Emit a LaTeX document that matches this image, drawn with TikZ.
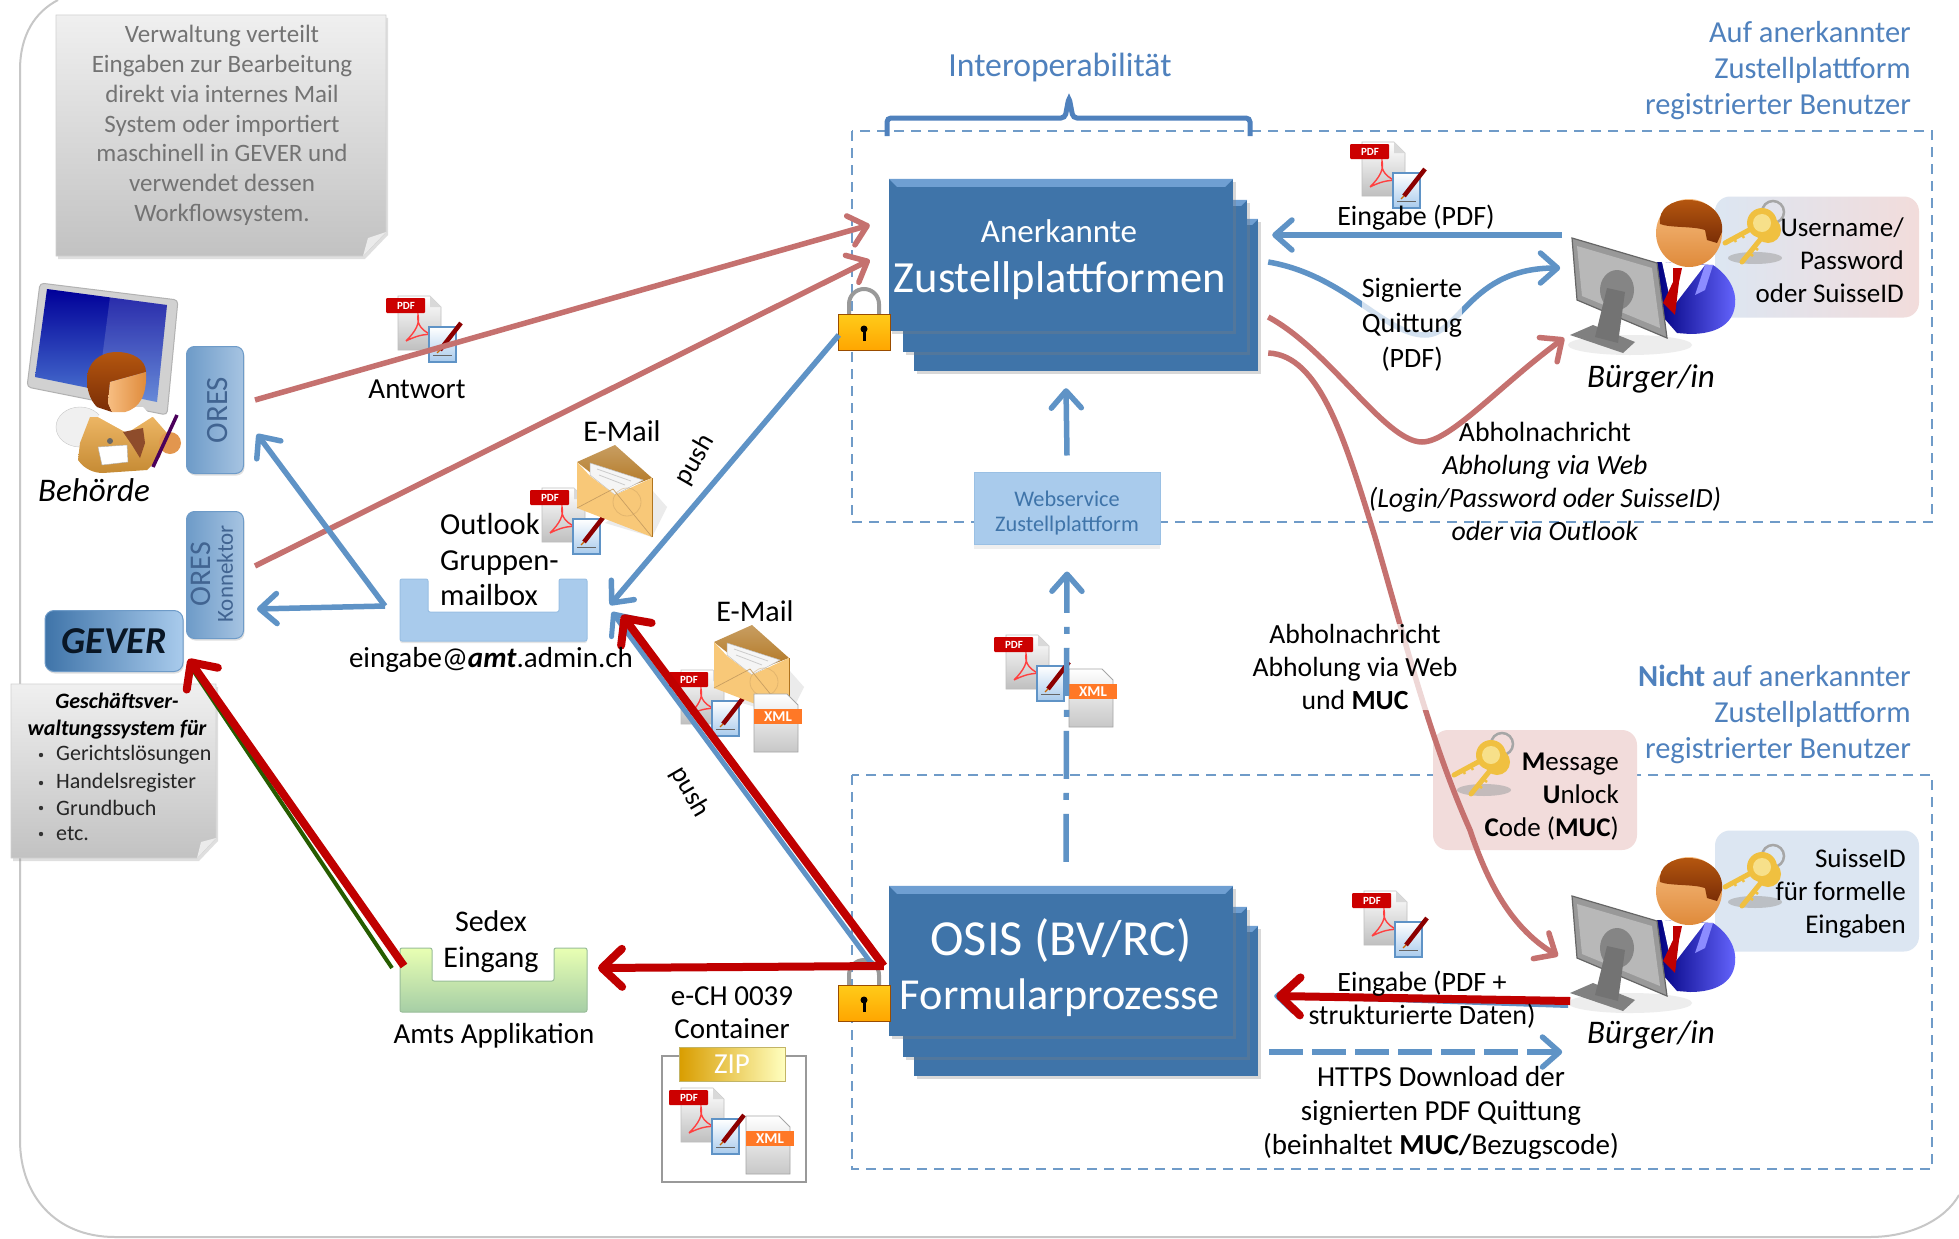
\documentclass[tikz,border=0pt]{standalone}
\usepackage{fontspec}
\setmainfont{Carlito}
\usetikzlibrary{arrows.meta,calc,shadows,positioning}
\definecolor{bluA}{HTML}{5F93C6}
\definecolor{bluT}{HTML}{4F81BD}
\definecolor{bluS}{HTML}{3F74A9}
\definecolor{bluL}{HTML}{6F9FD2}
\definecolor{paleR}{HTML}{C5716F}
\definecolor{darkR}{HTML}{C00000}
\definecolor{boxL}{HTML}{A9CBEC}
\definecolor{navy}{HTML}{1F497D}
\definecolor{dashB}{HTML}{6F9BC8}
\definecolor{sideL}{HTML}{6E9BC8}
\definecolor{sideR}{HTML}{A6C4E2}
\definecolor{paleB}{HTML}{DCE6F2}
\definecolor{paleP}{HTML}{F2DCDB}
\definecolor{keyY}{HTML}{F0C040}
\definecolor{keyL}{HTML}{F7E08A}
\definecolor{envF}{HTML}{F8C878}
\definecolor{envD}{HTML}{B0741E}
\definecolor{hairA}{HTML}{B4560F}
\definecolor{hairB}{HTML}{7A2D06}
\definecolor{skinA}{HTML}{F7BE82}
\definecolor{skinB}{HTML}{DF8A3A}
\definecolor{bodyO}{HTML}{E8A33D}
\newcommand{\fs}[1]{\fontsize{#1}{#1}\selectfont}
\tikzset{
  barb/.style={-{Straight Barb[length=17pt,width=30pt,round]}},
  bigbarb/.style={-{Straight Barb[length=20pt,width=38pt,round]}},
  bluearrow/.style={barb,draw=bluA,line width=5.5pt},
  palearrow/.style={barb,draw=paleR,line width=5.5pt},
  redarrow/.style={bigbarb,draw=darkR,line width=8pt},
  label/.style={font=\fs{29},align=center,inner sep=0pt},
  rlabel/.style={font=\fs{30.5},align=right,inner sep=0pt,text=bluT},
  halo/.style={fill=white,fill opacity=.72,text opacity=1},
  zone/.style={draw=dashB,line width=2pt,dash pattern=on 10pt off 7pt},
  stackbox/.style={draw=none,fill=bluS,minimum width=344pt,inner sep=0pt,drop shadow={shadow xshift=3pt,shadow yshift=-3pt,opacity=.3}},
  sidebox/.style={draw=sideL,line width=1pt,rounded corners=8pt,left color=sideL,right color=sideR,minimum width=57pt,inner sep=0pt,drop shadow={shadow xshift=1pt,shadow yshift=-2pt,opacity=.25}},
  keybox/.style={rounded corners=15pt,minimum width=204pt,inner sep=0pt},
}
% PDF icon: x,y = top left; 77 x 67
\newcommand{\pdficon}[2]{\begin{scope}[shift={(#1,#2)}]
  \path[top color=white,bottom color=black!25,draw=black!25,line width=.6pt] (12,1) -- (44,1) -- (55,12) -- (55,55) -- (12,55) -- cycle;
  \path[fill=black!15] (44,1) -- (44,12) -- (55,12) -- cycle;
  \draw[red!75!white,line width=1.4pt] (20,46) .. controls (30,36) and (34,28) .. (32,20) .. controls (30,30) and (38,38) .. (48,40) .. controls (38,38) and (28,42) .. (20,46);
  \path[fill=red!80!black,rounded corners=1pt] (0,3) rectangle (39,18);
  \node[inner sep=0pt,text=white,font=\fs{11}\bfseries] at (20,10.5) {PDF};
  \path[top color=white,bottom color=boxL,draw=bluA,line width=1.8pt] (43,32) rectangle (70,67);
  \draw[black!60,line width=1pt] (47,60) -- (66,60);
  \draw[red!55!black,line width=4.5pt] (54,55) -- (75,28);
  \draw[orange!80!black,line width=1.2pt] (51,58) -- (54,55);
\end{scope}}
% XML icon: x,y = top left; 48 x 58
\newcommand{\xmlicon}[2]{\begin{scope}[shift={(#1,#2)}]
  \path[top color=white,bottom color=black!22,draw=black!35,line width=.8pt] (0,0) -- (33,0) -- (44,11) -- (44,58) -- (0,58) -- cycle;
  \path[fill=orange!75!red!85!white] (0,15) rectangle (48,30);
  \node[inner sep=0pt,text=white,font=\fs{15}\bfseries] at (24,22.5) {XML};
\end{scope}}
% Envelope: x,y = top left; 78 x 92
\newcommand{\envicon}[2]{\begin{scope}[shift={(#1,#2)}]
  \path[fill=black!8] (30,78) -- (77,92) -- (92,62) -- (77,45) -- cycle;
  \path[top color=envD!70!white,bottom color=envD] (2,17) -- (40,0) -- (77,33) -- (40,47) -- cycle;
  \path[fill=black!4,draw=black!25,line width=.5pt] (15,18) -- (68,35) -- (40,50) -- (15,30) -- cycle;
  \draw[black!20,line width=.8pt] (22,24) -- (56,36) (24,30) -- (50,40);
  \path[fill=envF] (2,17) -- (15,31) -- (40,50) -- (77,33) -- (77,92) -- (2,63) -- cycle;
  \draw[envD!70!white,line width=.7pt] (2,63) -- (38,44) -- (77,92);
  \draw[envD!70!white,opacity=.45,line width=.8pt] (52,57) circle[radius=14pt];
  \draw[envD,line width=.6pt] (77,33) -- (77,92);
\end{scope}}
% Lock: x,y = top left of body; 50 x 36
\newcommand{\lockicon}[2]{\begin{scope}[shift={(#1,#2)}]
  \draw[black!40,line width=4pt] (11,2) -- (11,-10) arc[start angle=180,end angle=0,radius=15pt] -- (41,2);
  \path[top color=yellow!55!orange!90!white,bottom color=orange!70!yellow,draw=orange!60!black,line width=.4pt] (0,0) rectangle (52,36);
  \path[fill=black] (26,15) circle[radius=3.5pt];
  \path[fill=black] (24.5,15) -- (27.5,15) -- (27.5,27) -- (24.5,27) -- cycle;
\end{scope}}
% Keys: x,y = centre of heads
\newcommand{\keyicon}[2]{\begin{scope}[shift={(#1,#2)}]
  \path[fill=black!35,opacity=.6] (-6,38) ellipse[x radius=27pt,y radius=6pt];
  \draw[black!35,line width=2.5pt] (12,-8) circle[radius=11pt];
  \draw[keyY,line width=5pt,line cap=round] (7,10) -- (-19,42);
  \draw[keyY,line width=2.5pt] (-13,32) -- (-8,36) (-8,26) -- (-3,30);
  \path[fill=keyY] (7,10) circle[radius=13pt];
  \draw[keyY,line width=5pt,line cap=round] (1,3) -- (-36,23);
  \draw[keyY,line width=2.5pt] (-28,17) -- (-25,22) (-20,13) -- (-17,18);
  \path[fill=keyY] (1,3) circle[radius=15pt];
  \path[fill=keyL] (1,3) circle[radius=9pt];
\end{scope}}
% Citizen: dy = vertical shift
\newcommand{\citizen}[1]{\begin{scope}[shift={(0,#1)}]
  \path[fill=black!7] (1630,345) ellipse[x radius=62pt,y radius=10pt];
  \path[left color=blue!50!black,right color=blue!60!white] (1657,262) -- (1713,265) .. controls (1728,275) and (1737,290) .. (1735,305) .. controls (1733,325) and (1715,334) .. (1690,334) -- (1677,333) -- (1663,317) -- cycle;
  \path[fill=white] (1662,262) -- (1705,265) -- (1672,308) -- cycle;
  \path[fill=red!75!black] (1673,268) -- (1682,268) -- (1679,282) -- (1675,315) -- (1663,303) -- (1673,282) -- cycle;
  \path[fill=blue!45!white] (1713,265) -- (1705,290) -- (1695,295) -- (1705,265) -- cycle;
  \path[top color=skinA,bottom color=skinB] (1689,233) ellipse[x radius=33pt,y radius=34pt];
  \path[top color=hairA,bottom color=hairB] (1660,224) .. controls (1658,208) and (1672,200) .. (1688,200) .. controls (1710,200) and (1724,215) .. (1722,232) -- (1717,243) -- (1707,240) -- (1705,230) .. controls (1693,226) and (1670,228) .. (1660,224) -- cycle;
  \path[fill=black!50] (1570,335) -- (1593,325) -- (1635,342) -- (1623,353) -- cycle;
  \path[fill=black!40,draw=black!60,line width=1.2pt] (1572,238) -- (1657,263) -- (1667,338) -- (1577,300) -- cycle;
  \path[fill=black!28] (1577,246) -- (1652,268) -- (1660,328) -- (1582,296) -- cycle;
  \path[fill=black!48] (1617,290) ellipse[x radius=17pt,y radius=20pt];
  \path[fill=black!55] (1607,288) -- (1625,292) -- (1618,343) -- (1595,337) -- cycle;
\end{scope}}
\newcommand{\bevel}[1]{\path[fill=bluL] (#1.north west) -- (#1.north east) -- ($(#1.north east)+(-6,6)$) -- ($(#1.north west)+(6,6)$) -- cycle;}
\begin{document}
\begin{tikzpicture}[x=1pt,y=-1pt,line cap=butt]
\useasboundingbox (0,0) rectangle (1959,1239);
\path[fill=white] (0,0) rectangle (1959,1239);
% outer frame
\draw[black!22,line width=2pt] (58,0) .. controls (35,12) and (20,35) .. (20,70) -- (20,1140) .. controls (20,1195) and (55,1237) .. (115,1237) -- (1870,1237) .. controls (1910,1237) and (1945,1220) .. (1959,1195);

% grey notes
\path[top color=black!6,bottom color=black!24,draw=black!18,line width=.6pt,drop shadow={shadow xshift=2pt,shadow yshift=-3pt,opacity=.25}] (56,15) -- (386,15) -- (386,232) -- (363,256) -- (56,256) -- cycle;
\path[fill=black!8] (386,232) -- (368,238) -- (363,256) -- cycle;
\node[inner sep=0pt,align=center,text=black!55,font=\fs{25}] (verwaltung) at (222,125.5) {Verwaltung verteilt\\[4.8pt]Eingaben zur Bearbeitung\\[4.8pt]direkt via internes Mail\\[4.8pt]System oder importiert\\[4.8pt]maschinell in GEVER und\\[4.8pt]verwendet dessen\\[4.8pt]Workflowsystem.};

\path[top color=black!6,bottom color=black!24,draw=black!18,line width=.6pt,drop shadow={shadow xshift=2pt,shadow yshift=-3pt,opacity=.25}] (11,684) -- (216,684) -- (216,838) -- (197,858) -- (11,858) -- cycle;
\path[fill=black!8] (216,838) -- (201,842) -- (197,858) -- cycle;
\node[inner sep=0pt,align=center,font=\fs{22}\bfseries\itshape] (gesch) at (117,716) {Geschäftsver-\\[5pt]waltungssystem für};
\foreach \yy/\tt/\nn in {755/Gerichtslösungen/a,783/Handelsregister/b,808/Grundbuch/c,834/etc./d}{
  \node[inner sep=0pt,anchor=west,font=\fs{22},text=black!85] (geschli\nn) at (56,\yy) {\tt};
  \path[fill=black!80] (41,\yy) circle[radius=2.2pt];
}

% zones
\draw[zone] (852,131) rectangle (1932,522);
\draw[zone] (852,775) rectangle (1932,1169);

% interoperability bracket
\node[inner sep=0pt,text=bluT,font=\fs{33.7}] (interop) at (1060,67.5) {Interoperabilität};
\draw[bluT,line width=5pt,rounded corners=4pt] (887,136) -- (887,118) -- (1065,118) -- (1069,97) -- (1073,118) -- (1250,118) -- (1250,136);

% right heading texts
\node[rlabel] (zone1) [anchor=east] at (1911,71) {Auf anerkannter\\[5.5pt]Zustellplattform\\[5.5pt]registrierter Benutzer};
\node[rlabel] (zone2) [anchor=east] at (1911,714) {\textbf{Nicht} auf anerkannter\\[5.5pt]Zustellplattform\\[5.5pt]registrierter Benutzer};

% key boxes
\node[keybox,left color=paleB,right color=paleP,minimum height=121pt] (keyA) at (1817,257) {};
\node[keybox,fill=paleB,minimum height=121pt] (keyB) at (1817,891) {};
\node[keybox,fill=paleP,minimum width=204pt,minimum height=120pt] (keyC) at (1535,790) {};

% Stacks
\node[stackbox,minimum height=152pt] (zust3) at (1086,295) {};
\bevel{zust3}
\node[stackbox,minimum height=152pt] (zust2) at (1075,276) {};
\bevel{zust2}
\node[stackbox,minimum height=152pt] (zust) at (1061,255) {};
\path[fill=bluL] (zust.north west) -- (zust.north east) -- ($(zust.north east)+(-8,8)$) -- ($(zust.north west)+(8,8)$) -- cycle;
\node[inner sep=0pt,text=white,font=\fs{33}] (zustA) at (1059,231) {Anerkannte};
\node[inner sep=0pt,text=white,font=\fs{44.5}] (zustB) at (1060,280.5) {Zustellplattformen};

\node[stackbox,minimum height=150pt] (osis3) at (1086,1001) {};
\bevel{osis3}
\node[stackbox,minimum height=150pt] (osis2) at (1075,982) {};
\bevel{osis2}
\node[stackbox,minimum height=150pt] (osis) at (1061,961) {};
\path[fill=bluL] (osis.north west) -- (osis.north east) -- ($(osis.north east)+(-8,8)$) -- ($(osis.north west)+(8,8)$) -- cycle;
\node[inner sep=0pt,text=white,font=\fs{50.5}] (osisA) at (1061,941) {OSIS (BV/RC)};
\node[inner sep=0pt,text=white,font=\fs{44.3}] (osisB) at (1060,997.5) {Formularprozesse};

% Webservice
\node[draw=boxL!80!bluA,line width=1pt,fill=boxL,minimum width=186pt,minimum height=72pt,inner sep=0pt,align=center,text=bluS,font=\fs{22.3},drop shadow={shadow xshift=0pt,shadow yshift=-5pt,opacity=.12}] (web) at (1067,508) {\rule{0pt}{26pt}Webservice\\[3pt]Zustellplattform};

% side boxes
\node[sidebox,minimum height=127pt] (ores) at (215,410) {};
\node[rotate=90,inner sep=0pt,text=navy!85!white,font=\fs{31}] (oresT) at (218,410) {ORES};
\node[sidebox,minimum height=127pt] (konn) at (215,575) {};
\node[rotate=90,inner sep=0pt,text=navy!85!white,font=\fs{30}] (konnA) at (201,574) {ORES};
\node[rotate=90,inner sep=0pt,text=navy!85!white,font=\fs{23}] (konnB) at (225,574) {Konnektor};
\node[draw=sideL,line width=1pt,rounded corners=9pt,left color=bluS,right color=boxL,minimum width=138pt,minimum height=61pt,inner sep=0pt,text=black!70!navy,font=\fs{38}\bfseries\itshape,drop shadow={shadow xshift=1pt,shadow yshift=-2pt,opacity=.25}] (gever) at (114,641) {GEVER};

% U-shaped boxes
\path[fill=boxL,draw=boxL!80!bluA,line width=1pt,rounded corners=2pt,drop shadow={shadow xshift=0pt,shadow yshift=-2pt,opacity=.2}] (400,579) -- (428,579) -- (428,612) -- (559,612) -- (559,579) -- (587,579) -- (587,641) -- (400,641) -- cycle;
\coordinate (mailbox) at (493,610);
\path[top color=green!30!yellow!30!white,bottom color=green!45!black!35!white,draw=green!35!black!40!white,line width=1pt,rounded corners=2pt] (400,948) -- (432,948) -- (432,981) -- (554,981) -- (554,948) -- (587,948) -- (587,1012) -- (400,1012) -- cycle;
\coordinate (sedex) at (493,980);

% Container box
\node[draw=black!40,line width=1.5pt,fill=white,minimum width=144pt,minimum height=126pt,inner sep=0pt] (cont) at (734,1119) {};
\node[draw=orange!30!yellow!60!black!60,line width=.8pt,left color=yellow!45!orange!85!black,right color=yellow!25!white,minimum width=106pt,minimum height=34pt,inner sep=0pt,text=white,font=\fs{29}] (zip) at (732,1064) {ZIP};

% persons
\citizen{0}
\citizen{658}

% Behörde figure
\path[fill=black!18,draw=black!30,line width=1pt,rounded corners=4pt] (40,283) -- (178,300) -- (167,415) -- (27,387) -- cycle;
\path[top color=blue!60!black,bottom color=bluA!80!blue] (47,289) -- (167,305) -- (157,402) -- (35,377) -- cycle;
\path[fill=white,opacity=.15] (110,297) -- (167,305) -- (157,402) -- (98,390) -- cycle;
\path[fill=black!6,draw=black!22] (80,427) ellipse[x radius=24pt,y radius=20pt];
\path[top color=bodyO!80!white,bottom color=bodyO!85!black] (90,417) -- (80,443) -- (78,460) .. controls (85,470) and (95,473) .. (103,473) -- (147,470) -- (160,457) -- (167,433) -- (153,417) -- cycle;
\path[fill=white] (98,417) -- (127,433) -- (152,417) -- (143,407) -- (106,407) -- cycle;
\path[fill=hairB!85!white] (123,432) -- (143,428) -- (145,443) -- (140,458) -- (132,445) -- cycle;
\path[fill=white,draw=black!30] (98,447) -- (127,445) -- (128,462) -- (102,465) -- cycle;
\path[fill=black!60] (110,441) circle[radius=3pt];
\path[fill=skinB!90!white] (170,443) circle[radius=11pt];
\draw[blue!55!red!65!black,line width=3.5pt] (153,467) -- (177,415);
\path[top color=hairA,bottom color=hairB] (87,380) .. controls (87,362) and (100,352) .. (117,352) .. controls (133,352) and (146,360) .. (146,372) -- (110,382) -- (108,403) -- (112,412) -- (97,407) .. controls (90,400) and (87,390) .. (87,380) -- cycle;
\path[left color=skinA,right color=skinB] (110,382) -- (146,372) .. controls (147,395) and (140,408) .. (125,412) -- (112,412) -- (108,403) -- cycle;

% locks
\lockicon{838}{314}
\lockicon{838}{985}

% icons
\pdficon{386}{295}
\pdficon{530}{487}
\envicon{575}{445}
\pdficon{1350}{141}
\pdficon{994}{634}
\xmlicon{1069}{669}
\pdficon{669}{669}
\envicon{712}{625}
\xmlicon{754}{694}
\pdficon{1352}{890}
\pdficon{669}{1087}
\xmlicon{746}{1116}

% keys
\keyicon{1761}{220}
\keyicon{1761}{864}
\keyicon{1490}{752}

\coordinate (citizenB) at (1558,956);
% pale red arrows
\draw[palearrow] ($(ores.east)+(11,-10)$) -- ($(zust.west)+(-19,-30)$);
\draw[palearrow] ($(konn.east)+(11,-9)$) -- ($(zust.west)+(-19,5)$);
% blue arrows
\draw[bluearrow] ($(mailbox)+(-108,-4)$) -- ($(ores.east)+(13,24)$);
\draw[bluearrow] ($(mailbox)+(-108,-4)$) -- ($(konn.east)+(13,34)$);
\draw[bluearrow] ($(zust.west)+(-50,80)$) -- ($(mailbox)+(117,-5)$);
% arrow from web
\draw[bluearrow] ($(web.north)+(0,-16)$) -- ($(zust3.south)+(-20,17)$);
\draw[bluA,line width=5.5pt,dash pattern=on 48pt off 14pt on 7pt off 14pt,barb] ($(osis.north)+(5,-24)$) -- ($(web.south)+(0,27)$);
% top right arrows
\draw[bluearrow] ($(zust3.east)+(304,-60)$) -- ($(zust3.east)+(14,-60)$);
\draw[bluearrow] ($(zust3.east)+(10,-33)$) .. controls (1345,275) and (1385,335) .. (1425,335) .. controls (1460,335) and (1470,268) .. ($(zust3.east)+(302,-27)$);
\draw[palearrow] ($(zust3.east)+(10,22)$) .. controls (1330,350) and (1385,442) .. (1422,442) .. controls (1450,442) and (1500,385) .. ($(zust3.east)+(306,43)$);
\draw[palearrow] ($(zust3.east)+(10,58)$) .. controls (1320,355) and (1345,440) .. (1375,537) .. controls (1405,640) and (1430,740) .. (1470,830) .. controls (1490,890) and (1515,930) .. (citizenB);
% citizen lower arrows
\draw[bluearrow,line width=4pt] ($(osis3.east)+(310,5)$) -- ($(osis3.east)+(16,-5)$);
\draw[redarrow] ($(osis3.east)+(312,0)$) -- ($(osis3.east)+(18,-5)$);
\draw[bluA,line width=5.5pt,dash pattern=on 34pt off 9pt,barb] ($(osis3.east)+(11,51)$) -- ($(osis3.east)+(304,51)$);
% red arrows
\draw[bluearrow,line width=5pt] ($(osis.west)+(-14,7)$) -- ($(mailbox)+(119,2)$);
\draw[redarrow] ($(osis.west)+(-5,5)$) -- ($(mailbox)+(129,5)$);
\draw[redarrow] ($(osis.west)+(-5,5)$) -- ($(sedex)+(105,-12)$);
\draw[green!30!black!70!olive,line width=4pt] ($(sedex)+(-101,-12)$) -- ($(gever.south east)+(6,-7)$);
\draw[redarrow] ($(sedex)+(-89,-14)$) -- ($(gever.south east)+(5,-13)$);

% labels
\node[label,font=\fs{33}\itshape] (behoerde) at (94,490) {Behörde};
\node[label,font=\fs{33}\itshape] (buerger1) at (1651,378.5) {Bürger/in};
\node[label,font=\fs{33}\itshape] (buerger2) at (1651,1035) {Bürger/in};
\node[label] (antwort) at (417,389.5) {Antwort};
\node[label,font=\fs{30}] (email1) at (622,431) {E-Mail};
\node[label,font=\fs{30}] (email2) at (755,611) {E-Mail};
\node[label,anchor=west,align=left,font=\fs{30.5}] (outlook) at (440,560) {Outlook\\[5pt]Gruppen-\\[5pt]mailbox};
\node[label] (eingabemail) at (491,660) {eingabe@\textbf{\textit{amt}}.admin.ch};
\node[label,font=\fs{30}] (sedexT) at (491,941.5) {Sedex\\[6pt]Eingang};
\node[label] (amts) at (494,1036) {Amts Applikation};
\node[label,rotate=60,font=\fs{27}] (push1) at (695,460) {push};
\node[label,rotate=-60,font=\fs{27}] (push2) at (690,792) {push};
\node[label] (ech) at (732,1012.5) {e-CH 0039\\[4pt]Container};
\node[label,font=\fs{28}] (eingabeT) at (1416,217.5) {Eingabe (PDF)};
\node[label,halo,font=\fs{28}] (signiert) at (1412,325) {Signierte\\[7pt]Quittung\\[7pt](PDF)};
\node[label,font=\fs{27.8}] (abhol1) at (1545,481) {Abholnachricht\\[5.2pt]\textit{Abholung via Web}\\[5.2pt]\textit{(Login/Password oder SuisseID)}\\[5.2pt]\textit{oder via Outlook}};
\node[label,font=\fs{27.7},halo] (abhol2) at (1355,667) {Abholnachricht\\[5.5pt]Abholung via Web\\[5.5pt]und \textbf{MUC}};
\node[rlabel,text=black,anchor=east,font=\fs{27}] (keyTa) at (1904,260) {Username/\\[6pt]Password\\[6pt]oder SuisseID};
\node[rlabel,text=black,anchor=east,font=\fs{27}] (keyTb) at (1906,894) {SuisseID\\[6pt]für formelle\\[6pt]Eingaben};
\node[rlabel,text=black,anchor=east,font=\fs{27}] (keyTc) at (1619,796.5) {\textbf{M}essage\\[6pt]\textbf{U}nlock\\[6pt]\textbf{C}ode (\textbf{MUC})};
\node[label,font=\fs{28}] (eingabeB) at (1422,999.5) {Eingabe (PDF +\\[5pt]strukturierte Daten)};
\node[label,font=\fs{29}] (https) at (1441,1113) {HTTPS Download der\\[5pt]signierten PDF Quittung\\[5pt](beinhaltet \textbf{MUC/}Bezugscode)};
\end{tikzpicture}
\end{document}
